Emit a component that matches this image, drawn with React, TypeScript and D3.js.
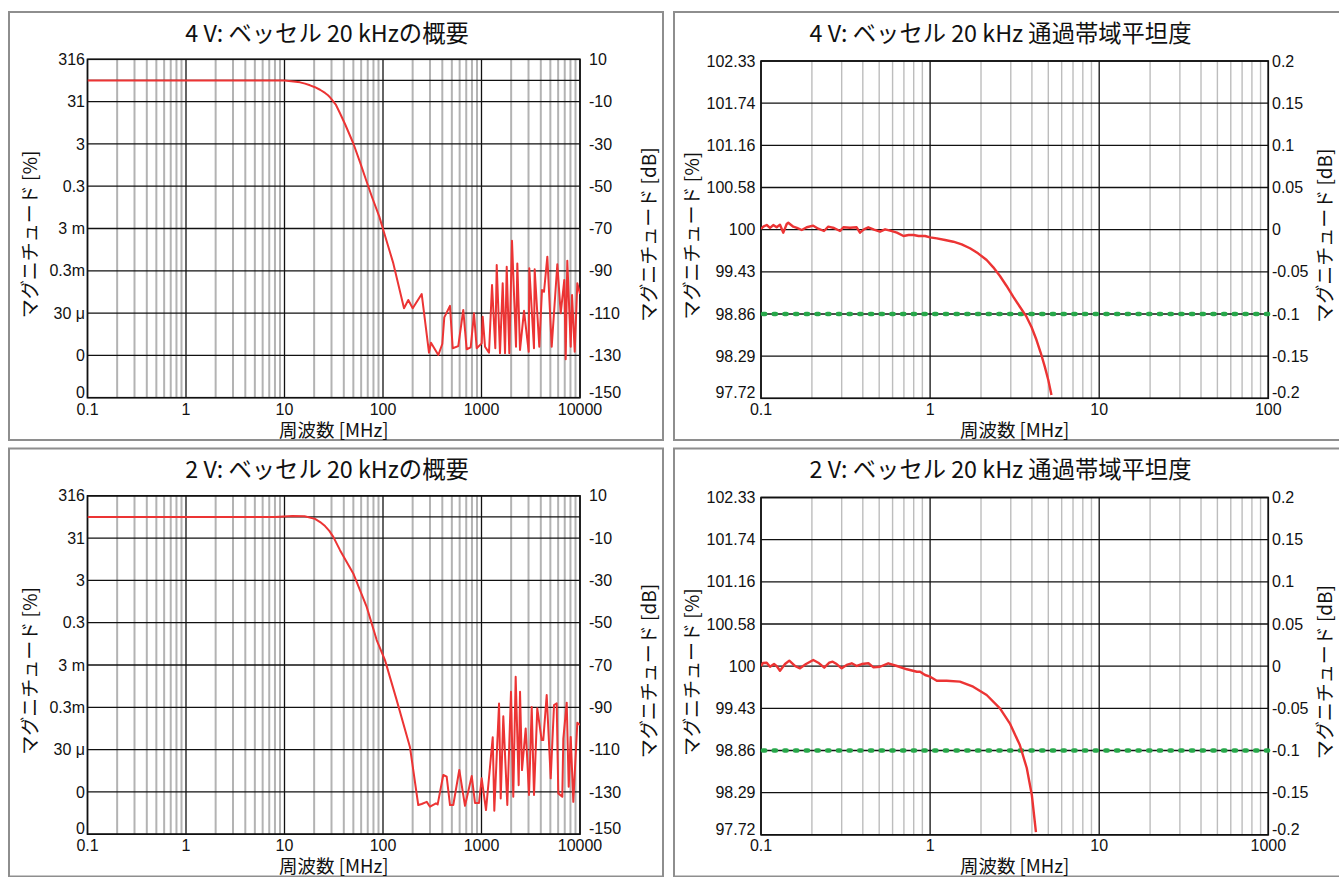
import React from 'react';
import * as d3 from 'd3';

// ---- Overview (magnitude in dB vs frequency in MHz) ----
const overviewFreq4V = [0.1, 1, 10, 14.4, 16.15, 18.16, 20.4, 22.94, 25.8, 27.65, 29.0, 33.32, 36.6, 41.14, 49.9, 58.4, 68.3, 77.3, 91.7, 100.7, 127.3, 163.4, 180.6, 200.3, 247.2, 293, 307, 364.6, 400, 419, 478.6, 510, 581, 653, 707, 777, 839, 894, 1004, 1028, 1086, 1192, 1279, 1381, 1427, 1541, 1641, 1733, 1803, 1916, 2040, 2240, 2310, 2461, 2702, 3015, 3058, 3410, 3466, 3862, 4112, 4313, 4659, 5160, 5885, 6370, 6930, 7160, 7430, 8050, 8300, 8840, 9390, 10000];
const overviewDb4V = [0, 0, 0, -0.9, -1.5, -2.3, -3.2, -4.4, -5.9, -7.0, -8.0, -11.6, -15.5, -20.6, -29.7, -38.6, -47.9, -55.1, -64.4, -70.7, -86.5, -107.7, -103.8, -107.7, -101, -128.7, -124, -129.8, -124.6, -112, -106.6, -126.6, -125.6, -108.5, -127.1, -126.2, -110.1, -126.6, -124.3, -111.7, -125.9, -128.7, -96.7, -126.6, -87.3, -129, -95.9, -129, -88.1, -129, -75.8, -125.9, -86.5, -127.4, -108.9, -128.3, -88.8, -126.6, -89.3, -125.9, -99.1, -99.9, -83.3, -125.9, -86.9, -110.1, -94.3, -131.8, -85.2, -125.9, -101.4, -128.3, -95.9, -101];

const overviewFreq2V = [0.1, 1, 8, 12, 16, 20.4, 23, 25.8, 28.5, 31.3, 36.6, 49.9, 68.3, 86.3, 104.7, 137.7, 188, 228, 247, 278, 300, 345, 359, 409, 443, 479, 517, 595, 680, 796, 859, 944, 1004, 1111, 1300, 1349, 1507, 1567, 1665, 1828, 1992, 2102, 2223, 2385, 2461, 2577, 2810, 3036, 3234, 3412, 3684, 4083, 4238, 4590, 5043, 5449, 5800, 6020, 6610, 6770, 7330, 7680, 8050, 8550, 9390, 10000];
const overviewDb2V = [0, 0, 0, 0.5, 0.3, -0.9, -2.4, -4.3, -6.6, -9.4, -15.7, -26.7, -42.5, -58.2, -67.7, -86.6, -108.9, -136.2, -135.7, -134.7, -137, -135.4, -135.9, -122, -122.8, -136.2, -136.2, -119.6, -136.6, -122.5, -135.2, -135.2, -123.6, -138.6, -104.2, -138.9, -88.2, -133.1, -94.2, -136.2, -82.7, -132.3, -75.6, -126.8, -82.7, -119.7, -100, -131.5, -89.8, -131.5, -90.5, -105.5, -105.5, -84.2, -123.6, -88.9, -88.1, -130.7, -132.3, -104.9, -87.8, -127.6, -104, -134.7, -97.3, -98.4];

// ---- Passband flatness ----
const flatFreq4V = [0.1, 0.1032, 0.1081, 0.1131, 0.1182, 0.1238, 0.1295, 0.1355, 0.1419, 0.145, 0.1553, 0.1632, 0.1742, 0.1864, 0.2037, 0.2181, 0.2358, 0.2499, 0.2702, 0.2933, 0.3069, 0.3362, 0.3678, 0.3848, 0.4061, 0.431, 0.4658, 0.5055, 0.5418, 0.5806, 0.6364, 0.6964, 0.7456, 0.7985, 0.855, 0.9336, 1.0, 1.0954, 1.2257, 1.3725, 1.5375, 1.7208, 1.9205, 2.16, 2.3641, 2.5885, 2.834, 3.0992, 3.3935, 3.7151, 3.9777, 4.2593, 4.5143, 4.7665, 5.0, 5.22];
const flatDb4V = [0.001, 0.0035, 0.0055, 0.002, 0.0055, 0.0028, 0.0059, -0.0036, 0.0067, 0.0082, 0.0035, 0.002, -0.0004, 0.0028, 0.0047, 0.0011, -0.0016, 0.0035, 0.002, -0.0016, 0.0028, 0.0023, 0.0028, -0.0036, 0.0004, 0.0028, 0, -0.0024, 0.0004, -0.0012, -0.0036, -0.0075, -0.0063, -0.0063, -0.0075, -0.0075, -0.0091, -0.0103, -0.0123, -0.0143, -0.0174, -0.0221, -0.0281, -0.036, -0.0447, -0.055, -0.0668, -0.0795, -0.0914, -0.1032, -0.1155, -0.1309, -0.1463, -0.1625, -0.1783, -0.1961];

const flatFreq2V = [0.1, 0.1028, 0.1081, 0.1131, 0.1194, 0.1244, 0.1295, 0.1387, 0.147, 0.1588, 0.1701, 0.1846, 0.2037, 0.2181, 0.2366, 0.2534, 0.2653, 0.2802, 0.2999, 0.3212, 0.344, 0.3684, 0.3946, 0.432, 0.4627, 0.5055, 0.5656, 0.6364, 0.7292, 0.8349, 0.8727, 0.9336, 1.0, 1.0954, 1.2532, 1.5003, 1.7967, 2.16, 2.5885, 2.96, 3.3935, 3.7295, 3.996, 4.2255];
const flatDb2V = [0.0002, 0.0037, 0.0041, -0.0007, 0.0025, -0.0004, -0.0054, 0.0025, 0.0065, 0.0002, -0.0026, 0.0025, 0.0073, 0.0041, -0.0018, 0.0041, 0.0053, 0.0025, -0.0026, 0.0014, 0.0034, 0.0002, 0.0025, 0.0034, -0.0014, -0.0007, 0.0034, 0.0002, -0.0037, -0.0066, -0.0066, -0.0105, -0.0125, -0.0173, -0.0173, -0.0184, -0.0244, -0.0342, -0.05, -0.0678, -0.0935, -0.1208, -0.1528, -0.1967];

// ---- Axis ticks and labels ----
const overviewDbTicks = [10, -10, -30, -50, -70, -90, -110, -130, -150];
const overviewPctLabels = ['316', '31', '3', '0.3', '3 m', '0.3m', '30 μ', '0', '0'];
const overviewFreqTicks = [0.1, 1, 10, 100, 1000, 10000];
const overviewFreqLabels = ['0.1', '1', '10', '100', '1000', '10000'];

const flatDbTicks = [0.2, 0.15, 0.1, 0.05, 0, -0.05, -0.1, -0.15, -0.2];
const flatDbLabels = ['0.2', '0.15', '0.1', '0.05', '0', '-0.05', '-0.1', '-0.15', '-0.2'];
const flatPctLabels = ['102.33', '101.74', '101.16', '100.58', '100', '99.43', '98.86', '98.29', '97.72'];
const flatFreqTicks = [0.1, 1, 10, 100];
const flatFreqLabels4V = ['0.1', '1', '10', '100'];
const flatFreqLabels2V = ['0.1', '1', '10', '1000'];
const flatLimitDb = -0.1;

const CJK = "'Noto Sans CJK JP', 'Noto Sans', sans-serif";
const SANS = "'Liberation Sans', Arial, sans-serif";
const RED = '#ec3434';
const GREEN = '#27a84a';

type Layout = {
  frame: { x: number; y: number; w: number; h: number };
  plot: { l: number; r: number; t: number; b: number };
  titleX: number;
  leftTitleX: number;
  rightTitleX: number;
  leftLabelX: number;
  rightLabelX: number;
};

const overviewLayout: Layout = {
  frame: { x: 9, y: 12, w: 654, h: 428 },
  plot: { l: 87.5, r: 580, t: 59.3, b: 397.7 },
  titleX: 327,
  leftTitleX: 28,
  rightTitleX: 647.5,
  leftLabelX: 85,
  rightLabelX: 589,
};

const flatLayout: Layout = {
  frame: { x: 674, y: 12, w: 680, h: 428 },
  plot: { l: 761, r: 1268.3, t: 61, b: 398.3 },
  titleX: 1000.5,
  leftTitleX: 690.5,
  rightTitleX: 1323,
  leftLabelX: 755.5,
  rightLabelX: 1272,
};

function minorDecades(lo: number, hi: number): number[] {
  const out: number[] = [];
  for (let e = Math.round(Math.log10(lo)); e < Math.round(Math.log10(hi)); e++) {
    for (let m = 2; m <= 9; m++) out.push(m * Math.pow(10, e));
  }
  return out;
}

type PanelProps = {
  id: string;
  dy: number;
  layout: Layout;
  title: string;
  kind: 'overview' | 'flat';
  freq: number[];
  db: number[];
};

function Panel({ id, dy, layout, title, kind, freq, db }: PanelProps) {
  const { frame, plot } = layout;
  const t = plot.t + dy;
  const b = plot.b + dy;
  const isOverview = kind === 'overview';
  const xTicks = isOverview ? overviewFreqTicks : flatFreqTicks;
  const xLabels = isOverview ? overviewFreqLabels : dy > 0 ? flatFreqLabels2V : flatFreqLabels4V;
  const x = d3.scaleLog().domain([xTicks[0], xTicks[xTicks.length - 1]]).range([plot.l, plot.r]);
  const y = isOverview
    ? d3.scaleLinear().domain([-150, 10]).range([b, t])
    : d3.scaleLinear().domain([-0.2, 0.2]).range([b, t]);
  const yTicks = isOverview ? overviewDbTicks : flatDbTicks;
  const leftLabels = isOverview ? overviewPctLabels : flatPctLabels;
  const rightLabels = isOverview ? overviewDbTicks.map(String) : flatDbLabels;
  const hLines = isOverview ? [...yTicks, 0] : yTicks;
  const minors = minorDecades(xTicks[0], xTicks[xTicks.length - 1]);
  const pts = freq.map((f, i) => [f, db[i]] as [number, number]);
  const line = d3.line<[number, number]>().x((d) => x(d[0])).y((d) => y(d[1]));
  const midY = (t + b) / 2 + 6;
  const midX = (plot.l + plot.r) / 2;
  const clipId = `clip-${id}`;
  // the lowest tick label sits on the plot floor instead of being centred on it
  const labelDy = (i: number) => (i === yTicks.length - 1 ? '0' : '0.35em');

  return (
    <g>
      <rect x={frame.x} y={frame.y + dy} width={frame.w} height={frame.h} fill="#fff" stroke="#8e8e8e" strokeWidth={2} />
      <defs>
        <clipPath id={clipId}>
          <rect x={plot.l} y={t - 1} width={plot.r - plot.l} height={b - t + 2} />
        </clipPath>
      </defs>
      <text x={layout.titleX} y={41.5 + dy} textAnchor="middle" fontFamily={CJK} fontSize={23.3} fill="#111">
        {title}
      </text>
      {/* minor vertical grid */}
      {minors.map((v) => (
        <line key={`m${v}`} x1={x(v)} x2={x(v)} y1={t} y2={b} stroke={isOverview ? '#b3b3b3' : '#bdbdbd'} strokeWidth={isOverview ? 2 : 1.4} />
      ))}
      {/* major vertical grid */}
      {xTicks.map((v) => (
        <line key={`M${v}`} x1={x(v)} x2={x(v)} y1={t} y2={b} stroke="#111" strokeWidth={1.3} />
      ))}
      {/* horizontal grid */}
      {hLines.map((v) => (
        <line key={`h${v}`} x1={plot.l} x2={plot.r} y1={y(v)} y2={y(v)} stroke="#111" strokeWidth={1.3} />
      ))}
      <rect x={plot.l} y={t} width={plot.r - plot.l} height={b - t} fill="none" stroke="#111" strokeWidth={1.6} />
      {!isOverview && (
        <line x1={plot.l + 2} x2={plot.r} y1={y(flatLimitDb)} y2={y(flatLimitDb)} stroke={GREEN} strokeWidth={4.6} strokeDasharray="2.2 8.5" strokeLinecap="round" />
      )}
      <path d={line(pts) || ''} fill="none" stroke={RED} strokeWidth={isOverview ? 2 : 2.4} strokeLinejoin="round" clipPath={`url(#${clipId})`} />
      {/* left tick labels */}
      {yTicks.map((v, i) => (
        <text key={`l${v}`} x={layout.leftLabelX} y={y(v)} dy={labelDy(i)} textAnchor="end" fontFamily={SANS} fontSize={16} fill="#111">
          {leftLabels[i]}
        </text>
      ))}
      {/* right tick labels */}
      {yTicks.map((v, i) => (
        <text key={`r${v}`} x={layout.rightLabelX} y={y(v)} dy={labelDy(i)} textAnchor="start" fontFamily={SANS} fontSize={16} fill="#111">
          {rightLabels[i]}
        </text>
      ))}
      {/* x tick labels */}
      {xTicks.map((v, i) => (
        <text key={`x${v}`} x={x(v)} y={414.5 + dy} textAnchor="middle" fontFamily={SANS} fontSize={16} fill="#111">
          {xLabels[i]}
        </text>
      ))}
      <text x={midX} y={436.5 + dy} textAnchor="middle" fontFamily={CJK} fontSize={18.5} fill="#111">
        周波数 [MHz]
      </text>
      <text transform={`translate(${layout.leftTitleX},${midY}) rotate(-90)`} textAnchor="middle" dominantBaseline="central" fontFamily={CJK} fontSize={19} fill="#111">
        マグニチュード [%]
      </text>
      <text transform={`translate(${layout.rightTitleX},${midY}) rotate(-90)`} textAnchor="middle" dominantBaseline="central" fontFamily={CJK} fontSize={19} fill="#111">
        マグニチュード [dB]
      </text>
    </g>
  );
}

export default function App() {
  const rowOffset = 436.5;
  return (
    <svg width={1339} height={877} viewBox="0 0 1339 877" style={{ position: 'absolute', left: 0, top: 0, background: '#fff' }}>
      <rect width={1339} height={877} fill="#fff" />
      <Panel id="ov4" dy={0} layout={overviewLayout} kind="overview" title="4 V: ベッセル 20 kHzの概要" freq={overviewFreq4V} db={overviewDb4V} />
      <Panel id="fl4" dy={0} layout={flatLayout} kind="flat" title="4 V: ベッセル 20 kHz 通過帯域平坦度" freq={flatFreq4V} db={flatDb4V} />
      <Panel id="ov2" dy={rowOffset} layout={overviewLayout} kind="overview" title="2 V: ベッセル 20 kHzの概要" freq={overviewFreq2V} db={overviewDb2V} />
      <Panel id="fl2" dy={rowOffset} layout={flatLayout} kind="flat" title="2 V: ベッセル 20 kHz 通過帯域平坦度" freq={flatFreq2V} db={flatDb2V} />
    </svg>
  );
}
